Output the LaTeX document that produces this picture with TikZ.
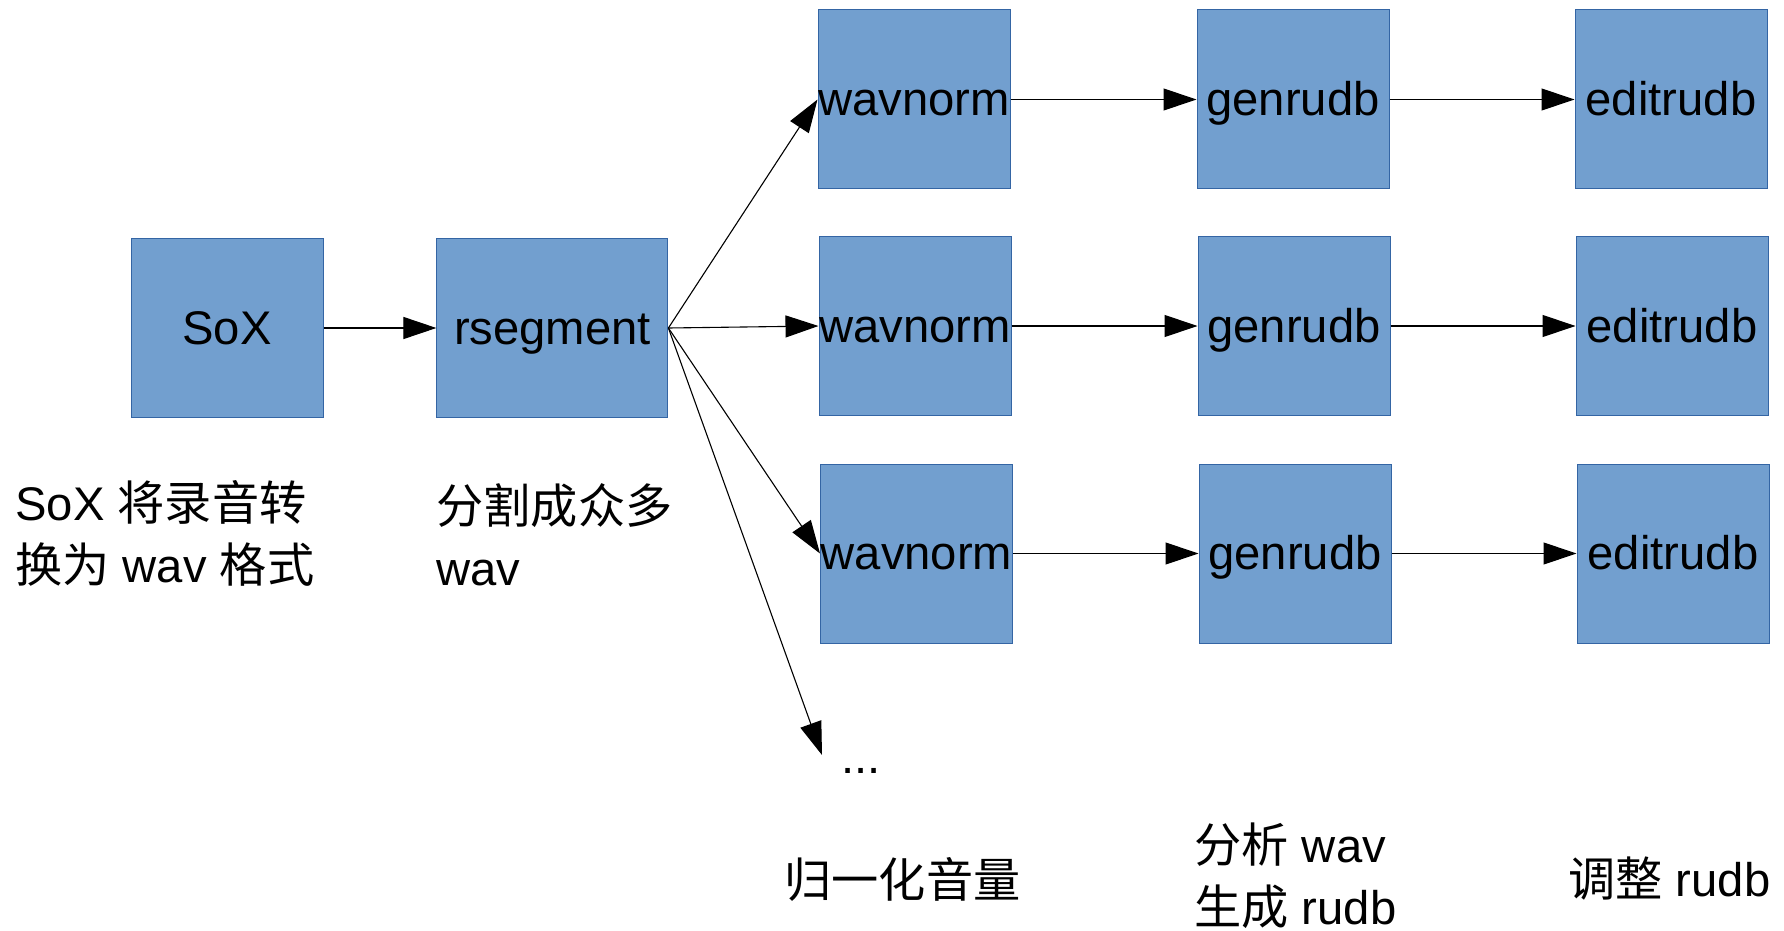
\documentclass[tikz,border=0pt]{standalone}
\usepackage{fontspec}
\setmainfont{Liberation Sans}
\newfontfamily\cjk{Noto Sans CJK SC}
\usetikzlibrary{arrows.meta}
\definecolor{boxfill}{HTML}{729FCF}
\definecolor{boxline}{HTML}{3465A4}
\tikzset{
  procbox/.style={draw=boxline, line width=0.5pt, fill=boxfill, inner sep=0pt,
    minimum width=96pt, minimum height=89.5pt, text height=21.4pt, text depth=5pt,
    font=\fontsize{23.6pt}{29pt}\selectfont},
  lbl/.style={inner sep=0pt, anchor=base west, align=left, font=\fontsize{23.6pt}{31pt}\selectfont},
  conn/.style={line width=0.55pt, -{Triangle[length=16.5pt, width=11pt]}}
}
\begin{document}
\begin{tikzpicture}[x=0.5pt, y=-0.5pt]
\useasboundingbox (0,0) rectangle (1784,931);
% first column
\node[procbox] (sox) at (227,328) {SoX};
\node[procbox, minimum width=115.5pt] (rseg) at (552.4,328) {rsegment};
% rows
\node[procbox] (wn1) at (914,99.5) {wavnorm};
\node[procbox] (gr1) at (1293,99.5) {genrudb};
\node[procbox] (er1) at (1671,99.5) {editrudb};
\node[procbox] (wn2) at (915,326) {wavnorm};
\node[procbox] (gr2) at (1294,326) {genrudb};
\node[procbox] (er2) at (1672,326) {editrudb};
\node[procbox] (wn3) at (916.5,553.5) {wavnorm};
\node[procbox] (gr3) at (1295,553.5) {genrudb};
\node[procbox] (er3) at (1673,553.5) {editrudb};
\coordinate (more) at (822,755);
\node[lbl] (dots) at (841,773) {...};
% connectors
\draw[conn] (sox.east) -- (rseg.west);
\draw[conn] (rseg.east) -- (wn1.west);
\draw[conn] (rseg.east) -- (wn2.west);
\draw[conn] (rseg.east) -- (wn3.west);
\draw[conn] (rseg.east) -- (more);
\draw[conn] (wn1.east) -- (gr1.west);
\draw[conn] (gr1.east) -- (er1.west);
\draw[conn] (wn2.east) -- (gr2.west);
\draw[conn] (gr2.east) -- (er2.west);
\draw[conn] (wn3.east) -- (gr3.west);
\draw[conn] (gr3.east) -- (er3.west);
% labels
\node[lbl] (l1) at (15,582) {SoX {\cjk 将录音转}\\{\cjk 换为} wav {\cjk 格式}};
\node[lbl] (l2) at (436,585) {{\cjk 分割成众多}\\wav};
\node[lbl] (l3) at (784,897) {\cjk 归一化音量};
\node[lbl] (l4) at (1194,924) {{\cjk 分析} wav\\{\cjk 生成} rudb};
\node[lbl] (l5) at (1568,896) {{\cjk 调整} rudb};
\end{tikzpicture}
\end{document}
